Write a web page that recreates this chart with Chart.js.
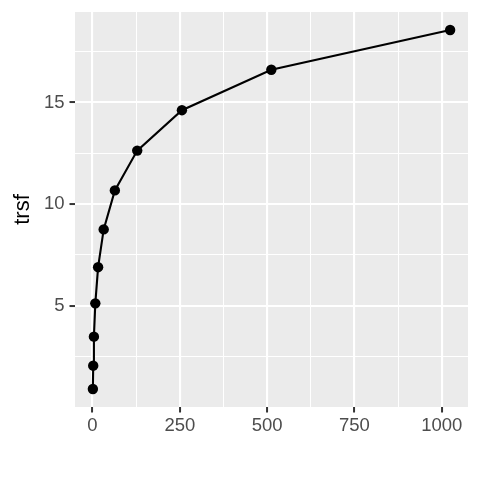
<!DOCTYPE html>
<html>
<head>
<meta charset="utf-8">
<script src="https://cdn.jsdelivr.net/npm/chart.js@4/dist/chart.umd.min.js"></script>
<style>
  body { margin: 0; background: #ffffff; }
  canvas { display: block; }
</style>
</head>
<body>
<canvas id="chart" width="480" height="480"></canvas>
<script>
// values
const xValues = [1, 2, 4, 8, 16, 32, 64, 128, 256, 512, 1024];
const trsf = [0.89, 2.04, 3.47, 5.11, 6.89, 8.75, 10.67, 12.63, 14.62, 16.61, 18.57];

const xMajor = [0, 250, 500, 750, 1000];
const xMinor = [125, 375, 625, 875];
const yMajor = [5, 10, 15];
const yMinor = [2.5, 7.5, 12.5, 17.5];

// ggplot style 5% expansion of the data range
const expand = (arr) => {
  const lo = Math.min(...arr);
  const hi = Math.max(...arr);
  const pad = (hi - lo) * 0.05;
  return [lo - pad, hi + pad];
};
const [xMin, xMax] = expand(xValues);
const [yMin, yMax] = expand(trsf);

const points = xValues.map((x, i) => ({ x: x, y: trsf[i] }));

const fontFamily = "'Liberation Sans', Arial, sans-serif";

const panelBg = {
  id: "panelBg",
  beforeDraw(chart) {
    const { ctx, chartArea } = chart;
    ctx.save();
    ctx.fillStyle = "#ffffff";
    ctx.fillRect(0, 0, chart.width, chart.height);
    ctx.fillStyle = "#EBEBEB";
    ctx.fillRect(
      chartArea.left,
      chartArea.top,
      chartArea.right - chartArea.left,
      chartArea.bottom - chartArea.top
    );
    ctx.restore();
  },
};

const buildTicks = (major, minor, lo, hi) => (axis) => {
  axis.ticks = major
    .concat(minor)
    .filter((v) => v >= lo && v <= hi)
    .sort((a, b) => a - b)
    .map((v) => ({ value: v }));
};

const gridOpts = (major) => ({
  color: "#ffffff",
  lineWidth: (ctx) => (ctx.tick && major.includes(ctx.tick.value) ? 2.1 : 1.05),
  tickColor: (ctx) =>
    ctx.tick && major.includes(ctx.tick.value) ? "#333333" : "rgba(0,0,0,0)",
  tickLength: 5.5,
  tickWidth: 2,
  drawTicks: true,
});

new Chart(document.getElementById("chart"), {
  type: "line",
  data: {
    datasets: [
      {
        data: points,
        borderColor: "#000000",
        backgroundColor: "#000000",
        borderWidth: 2.1,
        pointRadius: 5.2,
        pointHoverRadius: 5.2,
        pointBorderWidth: 0,
        tension: 0,
      },
    ],
  },
  plugins: [panelBg],
  options: {
    responsive: false,
    devicePixelRatio: 1,
    animation: false,
    layout: { padding: { top: 12, right: 12, left: 0, bottom: 0 } },
    plugins: {
      legend: { display: false },
      tooltip: { enabled: false },
    },
    scales: {
      x: {
        type: "linear",
        min: xMin,
        max: xMax,
        afterBuildTicks: buildTicks(xMajor, xMinor, xMin, xMax),
        afterFit: (axis) => {
          axis.height = 73;
          axis.paddingLeft = 0;
          axis.paddingRight = 0;
        },
        border: { display: false },
        grid: gridOpts(xMajor),
        ticks: {
          padding: 2,
          maxRotation: 0,
          autoSkip: false,
          color: "#4D4D4D",
          font: { family: fontFamily, size: 18.5 },
          callback: (v) => (xMajor.includes(v) ? String(v) : ""),
        },
      },
      y: {
        type: "linear",
        min: yMin,
        max: yMax,
        afterBuildTicks: buildTicks(yMajor, yMinor, yMin, yMax),
        afterFit: (axis) => {
          axis.width = 75;
          axis.paddingTop = 0;
          axis.paddingBottom = 0;
        },
        border: { display: false },
        grid: gridOpts(yMajor),
        title: {
          display: true,
          text: "trsf",
          color: "#000000",
          font: { family: fontFamily, size: 22 },
          padding: { top: 10, bottom: 0 },
        },
        ticks: {
          padding: 5,
          autoSkip: false,
          color: "#4D4D4D",
          font: { family: fontFamily, size: 18.5 },
          callback: (v) => (yMajor.includes(v) ? String(v) : ""),
        },
      },
    },
  },
});
</script>
</body>
</html>
